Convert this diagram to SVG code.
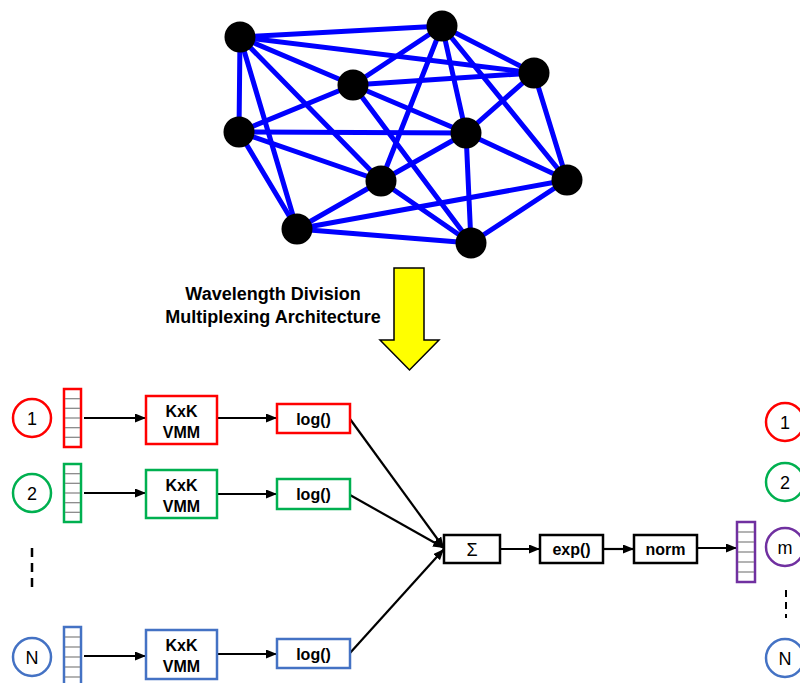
<svg xmlns="http://www.w3.org/2000/svg" width="800" height="683" viewBox="0 0 800 683">
<defs>
<marker id="ah" markerUnits="userSpaceOnUse" markerWidth="11" markerHeight="9" refX="11" refY="4.5" orient="auto">
<path d="M0,0 L11,4.5 L0,9 z" fill="#000"/>
</marker>
</defs>
<style>
.edge{stroke:#0000FF;stroke-width:5;stroke-linecap:round}
.vert{fill:#000}
.arr{stroke:#000;stroke-width:2.2;fill:none;marker-end:url(#ah)}
.box{fill:#fff;stroke-width:2.5}
.circ{fill:#fff;stroke-width:2.5}
.bar{fill:#fff;stroke-width:2.5}
.cell{stroke:#808080;stroke-width:1.2}
.red{stroke:#FF0000}.green{stroke:#00B050}.blue{stroke:#4472C4}.purple{stroke:#7030A0}.black{stroke:#000}
.lbl{font-family:"Liberation Sans",Arial,sans-serif;font-weight:bold;font-size:16px;fill:#000;text-anchor:middle}
.num{font-family:"Liberation Sans",Arial,sans-serif;font-size:18px;fill:#000;text-anchor:middle}
.title{font-family:"Liberation Sans",Arial,sans-serif;font-weight:bold;font-size:18px;fill:#000;text-anchor:middle}
.dash{stroke:#000;stroke-width:2.5;stroke-dasharray:9,6}
</style>
<rect width="800" height="683" fill="#fff"/>
<g id="graph-edges">
<line class="edge" x1="240" y1="37" x2="442" y2="26"/>
<line class="edge" x1="240" y1="37" x2="534" y2="73"/>
<line class="edge" x1="240" y1="37" x2="353" y2="85"/>
<line class="edge" x1="353" y1="85" x2="466" y2="133"/>
<line class="edge" x1="240" y1="37" x2="381" y2="181"/>
<line class="edge" x1="240" y1="37" x2="297" y2="229"/>
<line class="edge" x1="240" y1="37" x2="239" y2="132"/>
<line class="edge" x1="442" y1="26" x2="353" y2="85"/>
<line class="edge" x1="442" y1="26" x2="381" y2="181"/>
<line class="edge" x1="442" y1="26" x2="466" y2="133"/>
<line class="edge" x1="442" y1="26" x2="567" y2="180"/>
<line class="edge" x1="442" y1="26" x2="534" y2="73"/>
<line class="edge" x1="353" y1="85" x2="534" y2="73"/>
<line class="edge" x1="353" y1="85" x2="471" y2="243"/>
<line class="edge" x1="353" y1="85" x2="239" y2="132"/>
<line class="edge" x1="534" y1="73" x2="466" y2="133"/>
<line class="edge" x1="534" y1="73" x2="567" y2="180"/>
<line class="edge" x1="239" y1="132" x2="466" y2="133"/>
<line class="edge" x1="239" y1="132" x2="381" y2="181"/>
<line class="edge" x1="239" y1="132" x2="297" y2="229"/>
<line class="edge" x1="466" y1="133" x2="381" y2="181"/>
<line class="edge" x1="466" y1="133" x2="471" y2="243"/>
<line class="edge" x1="466" y1="133" x2="567" y2="180"/>
<line class="edge" x1="381" y1="181" x2="297" y2="229"/>
<line class="edge" x1="381" y1="181" x2="471" y2="243"/>
<line class="edge" x1="567" y1="180" x2="297" y2="229"/>
<line class="edge" x1="567" y1="180" x2="471" y2="243"/>
<line class="edge" x1="297" y1="229" x2="471" y2="243"/>
</g>
<g id="graph-nodes">
<circle id="vA" class="vert" cx="240" cy="37" r="15.5"/>
<circle id="vB" class="vert" cx="442" cy="26" r="15.5"/>
<circle id="vC" class="vert" cx="353" cy="85" r="15.5"/>
<circle id="vD" class="vert" cx="534" cy="73" r="15.5"/>
<circle id="vE" class="vert" cx="239" cy="132" r="15.5"/>
<circle id="vF" class="vert" cx="466" cy="133" r="15.5"/>
<circle id="vG" class="vert" cx="381" cy="181" r="15.5"/>
<circle id="vH" class="vert" cx="567" cy="180" r="15.5"/>
<circle id="vI" class="vert" cx="297" cy="229" r="15.5"/>
<circle id="vJ" class="vert" cx="471" cy="243" r="15.5"/>
</g>
<g id="wdm-arrow">
<path d="M394,268 L424,268 L424,340 L439,340 L409.5,370 L380,340 L394,340 Z" fill="#FFFF00" stroke="#000" stroke-width="1.5" stroke-linejoin="miter"/>
<text class="title" x="273" y="300">Wavelength Division</text>
<text class="title" x="273" y="323">Multiplexing Architecture</text>
</g>
<g id="connectors">
<line class="arr" x1="84" y1="418" x2="146" y2="418"/>
<line class="arr" x1="84" y1="493" x2="146" y2="493"/>
<line class="arr" x1="84" y1="656" x2="146" y2="656"/>
<line class="arr" x1="217" y1="418" x2="277" y2="418"/>
<line class="arr" x1="217" y1="494" x2="277" y2="494"/>
<line class="arr" x1="217" y1="654" x2="277" y2="654"/>
<line class="arr" x1="350" y1="419" x2="444" y2="548"/>
<line class="arr" x1="350" y1="495" x2="444" y2="548"/>
<line class="arr" x1="350" y1="653" x2="444" y2="549"/>
<line class="arr" x1="500" y1="549" x2="540" y2="549"/>
<line class="arr" x1="603" y1="549" x2="634" y2="549"/>
<line class="arr" x1="697" y1="548" x2="737" y2="548"/>
</g>
<g id="in1">
<circle class="circ red" cx="32" cy="418" r="19"/>
<text class="num" x="32" y="424.5">1</text>
</g>
<g id="in2">
<circle class="circ green" cx="32" cy="493" r="19"/>
<text class="num" x="32" y="499.5">2</text>
</g>
<g id="inDots"><line class="dash" x1="32" y1="548" x2="32" y2="591"/></g>
<g id="inN">
<circle class="circ blue" cx="32" cy="657" r="19"/>
<text class="num" x="32" y="663.5">N</text>
</g>
<g id="bar1">
<rect class="bar red" x="64" y="389" width="17" height="58"/>
<g class="cell"><line x1="65" y1="398.7" x2="80" y2="398.7"/><line x1="65" y1="408.3" x2="80" y2="408.3"/><line x1="65" y1="418" x2="80" y2="418"/><line x1="65" y1="427.7" x2="80" y2="427.7"/><line x1="65" y1="437.3" x2="80" y2="437.3"/></g>
</g>
<g id="bar2">
<rect class="bar green" x="64" y="464" width="17" height="58"/>
<g class="cell"><line x1="65" y1="473.7" x2="80" y2="473.7"/><line x1="65" y1="483.3" x2="80" y2="483.3"/><line x1="65" y1="493" x2="80" y2="493"/><line x1="65" y1="502.7" x2="80" y2="502.7"/><line x1="65" y1="512.3" x2="80" y2="512.3"/></g>
</g>
<g id="barN">
<rect class="bar blue" x="64" y="627" width="17" height="62"/>
<g class="cell"><line x1="65" y1="637" x2="80" y2="637"/><line x1="65" y1="647" x2="80" y2="647"/><line x1="65" y1="657" x2="80" y2="657"/><line x1="65" y1="667" x2="80" y2="667"/><line x1="65" y1="677" x2="80" y2="677"/></g>
</g>
<g id="vmm1">
<rect class="box red" x="146" y="396" width="71" height="48"/>
<text class="lbl" x="181.5" y="417">KxK</text><text class="lbl" x="181.5" y="438">VMM</text>
</g>
<g id="vmm2">
<rect class="box green" x="146" y="470" width="71" height="48"/>
<text class="lbl" x="181.5" y="491">KxK</text><text class="lbl" x="181.5" y="512">VMM</text>
</g>
<g id="vmmN">
<rect class="box blue" x="146" y="630" width="71" height="49"/>
<text class="lbl" x="181.5" y="651">KxK</text><text class="lbl" x="181.5" y="672">VMM</text>
</g>
<g id="log1">
<rect class="box red" x="277" y="404" width="73" height="29"/>
<text class="lbl" x="313.5" y="424.5">log()</text>
</g>
<g id="log2">
<rect class="box green" x="277" y="479" width="73" height="30"/>
<text class="lbl" x="313.5" y="500">log()</text>
</g>
<g id="logN">
<rect class="box blue" x="277" y="639" width="73" height="29"/>
<text class="lbl" x="313.5" y="659.5">log()</text>
</g>
<g id="sum">
<rect class="box black" x="444" y="535" width="56" height="28"/>
<text class="num" x="472" y="555.5">Σ</text>
</g>
<g id="exp">
<rect class="box black" x="540" y="535" width="63" height="28"/>
<text class="lbl" x="571.5" y="555">exp()</text>
</g>
<g id="norm">
<rect class="box black" x="634" y="535" width="63" height="28"/>
<text class="lbl" x="665.5" y="555">norm</text>
</g>
<g id="barOut">
<rect class="bar purple" x="737" y="522" width="18" height="60"/>
<g class="cell"><line x1="738" y1="532" x2="754" y2="532"/><line x1="738" y1="542" x2="754" y2="542"/><line x1="738" y1="552" x2="754" y2="552"/><line x1="738" y1="562" x2="754" y2="562"/><line x1="738" y1="572" x2="754" y2="572"/></g>
</g>
<g id="out1">
<circle class="circ red" cx="785" cy="422" r="19"/>
<text class="num" x="785" y="428.5">1</text>
</g>
<g id="out2">
<circle class="circ green" cx="785" cy="482" r="19"/>
<text class="num" x="785" y="488.5">2</text>
</g>
<g id="outM">
<circle class="circ purple" cx="785" cy="547" r="19"/>
<text class="num" x="785" y="553.5">m</text>
</g>
<g id="outDots"><line class="dash" x1="786" y1="590" x2="786" y2="618" style="stroke-width:2;stroke-dasharray:7,5"/></g>
<g id="outN">
<circle class="circ blue" cx="785" cy="658" r="19"/>
<text class="num" x="785" y="664.5">N</text>
</g>
</svg>
